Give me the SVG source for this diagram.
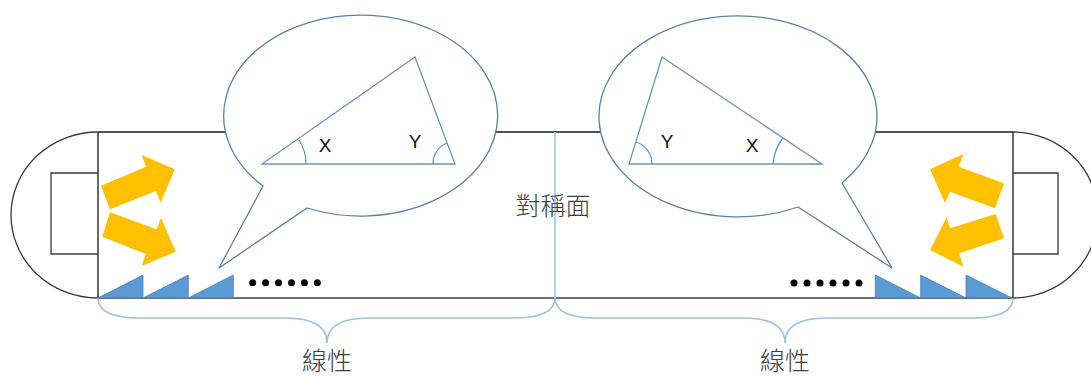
<svg xmlns="http://www.w3.org/2000/svg" width="1091" height="376" viewBox="0 0 1091 376">
<style>
.frame{fill:none;stroke:#1a1a1a;stroke-width:1.3}
.arcshape{fill:none;stroke:#3a3a3a;stroke-width:1.3}
.bubble{fill:#fff;stroke:#5b80aa;stroke-width:1.3}
.tri{fill:none;stroke:#6b93c0;stroke-width:1.3}
.ang{fill:none;stroke:#5b9bd5;stroke-width:1.3}
.lbl{font-family:"Liberation Sans",Arial,sans-serif;font-size:19px;fill:#111}
.cjk{font-family:"Noto Sans CJK TC","Noto Sans CJK SC",sans-serif;font-size:25px;fill:#404040;font-weight:300}
.orange{fill:#ffc000}
.saw{fill:#5b9bd5;stroke:#4a7eb3;stroke-width:0.8}
.dot{fill:#000}
.brace{fill:none;stroke:#9dc3e6;stroke-width:1.6}
</style>
<g id="body">
<line class="frame" x1="98" y1="132" x2="1013" y2="132"/>
<line class="frame" x1="98" y1="298" x2="1013" y2="298" style="stroke:#404040"/>
<line class="frame" x1="98" y1="132" x2="98" y2="298"/>
<line class="frame" x1="1013" y1="132" x2="1013" y2="298"/>
</g>
<g id="left-end">
<path class="arcshape" d="M98,132 A87,83 0 0 0 98,298"/>
<path class="arcshape" d="M98,173 H51 V254 H98"/>
</g>
<g id="right-end">
<path class="arcshape" d="M1013,132 A85,83 0 0 1 1013,298"/>
<path class="arcshape" d="M1013,173 H1058 V254 H1013"/>
</g>
<g id="symmetry-plane">
<line x1="555" y1="132" x2="555" y2="298" stroke="#9dc3e6" stroke-width="1.6"/>
<text class="cjk" x="553" y="215" text-anchor="middle">對稱面</text>
</g>
<g id="left-bubble">
<path class="bubble" d="M263,186 A137,100.5 0 1 1 307,208 L219,268 Z"/>
<path class="tri" d="M262,164 L455,164 L415,57 Z"/>
<path class="ang" d="M306,164 A44,44 0 0 0 299,140"/>
<path class="ang" d="M433,164 A22,22 0 0 1 447,143"/>
<text class="lbl" x="325" y="152" text-anchor="middle">X</text>
<text class="lbl" x="415" y="148" text-anchor="middle">Y</text>
</g>
<g id="right-bubble">
<path class="bubble" d="M798,207 A139,100.5 0 1 1 842,183 L892,268 Z"/>
<path class="tri" d="M629,164 L822,164 L662,57 Z"/>
<path class="ang" d="M652,164 A23,23 0 0 0 636,142"/>
<path class="ang" d="M773,164 A49,49 0 0 1 783,138"/>
<text class="lbl" x="667" y="148" text-anchor="middle">Y</text>
<text class="lbl" x="752" y="152" text-anchor="middle">X</text>
</g>
<g id="left-arrows">
<polygon class="orange" points="101,185.7 146,166.7 141.7,155 174.7,169.3 160.7,202.7 156,191 110,209.3"/>
<polygon class="orange" points="110,212.3 156.7,229.3 161,217.7 175.7,251.7 141.7,266 145.7,254 102.3,236.7"/>
</g>
<g id="right-arrows">
<polygon class="orange" points="930,169.3 963.3,154 958.7,166.7 1004,183.3 995,208.3 950,191.7 945,202.7"/>
<polygon class="orange" points="995.7,214 1004,238.3 959.3,253.3 963.3,266.7 930,250 946.7,217.3 950,228.3"/>
</g>
<g id="left-saw">
<polygon class="saw" points="98,298 143,298 143,275"/>
<polygon class="saw" points="143,298 188.3,298 188.3,275"/>
<polygon class="saw" points="188.3,298 233.3,298 233.3,275"/>
<g class="dot">
<circle cx="252.7" cy="282.7" r="3.5"/><circle cx="265.6" cy="282.7" r="3.5"/><circle cx="278.5" cy="282.7" r="3.5"/><circle cx="291.5" cy="282.7" r="3.5"/><circle cx="304.4" cy="282.7" r="3.5"/><circle cx="317.3" cy="282.7" r="3.5"/>
</g>
</g>
<g id="right-saw">
<polygon class="saw" points="875.3,275 875.3,298 920.7,298"/>
<polygon class="saw" points="920.7,275 920.7,298 966,298"/>
<polygon class="saw" points="966,275 966,298 1012,298"/>
<g class="dot">
<circle cx="794" cy="283" r="3.5"/><circle cx="807" cy="283" r="3.5"/><circle cx="820" cy="283" r="3.5"/><circle cx="833" cy="283" r="3.5"/><circle cx="846" cy="283" r="3.5"/><circle cx="859" cy="283" r="3.5"/>
</g>
</g>
<g id="connectors">
<path class="brace" d="M98,298 C98,312 112,318 140,318 L285,318 C312,318 327,326 327,343 C327,326 342,318 369,318 L513,318 C541,318 555,312 555,298"/>
<path class="brace" d="M555,298 C555,312 569,318 597,318 L743,318 C770,318 785,326 785,343 C785,326 800,318 827,318 L971,318 C999,318 1013,312 1013,298"/>
</g>
<g id="labels">
<text class="cjk" x="327" y="370" text-anchor="middle">線性</text>
<text class="cjk" x="785" y="370" text-anchor="middle">線性</text>
</g>
</svg>
